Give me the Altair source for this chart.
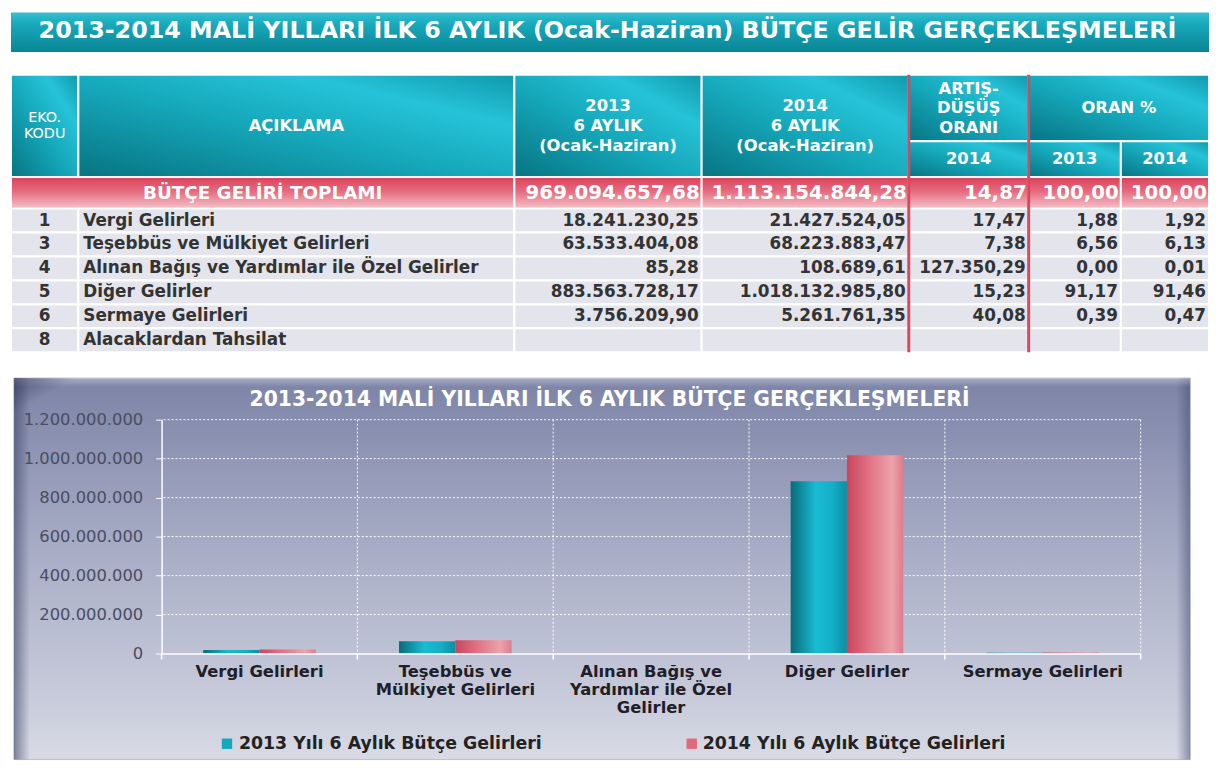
import json
import altair as alt
import pandas as pd

# ------------------------------------------------------------------ data
eko_codes = ["1", "3", "4", "5", "6", "8"]
descriptions = [
    "Vergi Gelirleri",
    "Teşebbüs ve Mülkiyet Gelirleri",
    "Alınan Bağış ve Yardımlar ile Özel Gelirler",
    "Diğer Gelirler",
    "Sermaye Gelirleri",
    "Alacaklardan Tahsilat",
]
budget_2013 = [18241230.25, 63533404.08, 85.28, 883563728.17, 3756209.90, None]
budget_2014 = [21427524.05, 68223883.47, 108689.61, 1018132985.80, 5261761.35, None]
change_pct_2014 = [17.47, 7.38, 127350.29, 15.23, 40.08, None]
share_pct_2013 = [1.88, 6.56, 0.00, 91.17, 0.39, None]
share_pct_2014 = [1.92, 6.13, 0.01, 91.46, 0.47, None]

total_label = "BÜTÇE GELİRİ TOPLAMI"
total_values = [969094657.68, 1113154844.28, 14.87, 100.00, 100.00]

chart_categories = descriptions[:5]
chart_2013 = budget_2013[:5]
chart_2014 = budget_2014[:5]
series_names = ["2013 Yılı 6 Aylık Bütçe Gelirleri", "2014 Yılı 6 Aylık Bütçe Gelirleri"]
y_tick_values = [0, 200000000, 400000000, 600000000, 800000000, 1000000000, 1200000000]

page_title = "2013-2014 MALİ YILLARI İLK 6 AYLIK  (Ocak-Haziran) BÜTÇE GELİR GERÇEKLEŞMELERİ"
chart_title = "2013-2014 MALİ YILLARI İLK 6 AYLIK BÜTÇE GERÇEKLEŞMELERİ"
header_main = ["AÇIKLAMA", "2013\n6 AYLIK\n(Ocak-Haziran)", "2014\n6 AYLIK\n(Ocak-Haziran)"]
header_code = "EKO.\nKODU"
header_change = "ARTIŞ-\nDÜŞÜŞ\nORANI"
header_share = "ORAN %"
sub_headers = ["2014", "2013", "2014"]
wrapped_labels = {
    "Teşebbüs ve Mülkiyet Gelirleri": ["Teşebbüs ve", "Mülkiyet Gelirleri"],
    "Alınan Bağış ve Yardımlar ile Özel Gelirler": ["Alınan Bağış ve", "Yardımlar ile Özel", "Gelirler"],
}

# ------------------------------------------------------------------ layout
FULL_W = 1211          # whole drawing width (page x 8 .. 1219)
OX = 154               # plot origin of the bar chart from the left edge
VIEW_W = FULL_W - OX   # view width of banner / table (origins are aligned in the concat)
BANNER_H = 59
TABLE_H = 306
col_widths = [68, 440, 189, 209, 121, 93, 89]
edges = [2]
for w in col_widths:
    edges.append(edges[-1] + w)
HDR_Y0, HDR_Y1, SPLIT_Y = 2, 105, 69
TOT_Y1 = 137
BODY_H = 145 / 6

FONT = "DejaVu Sans"

def grad(stops, x1=0, y1=0, x2=0, y2=1):
    return alt.LinearGradient(
        gradient="linear", x1=x1, y1=y1, x2=x2, y2=y2,
        stops=[alt.GradientStop(color=c, offset=o) for o, c in stops])

def lines_offset(text, lh):
    n = text.count("\n") + 1
    return -(n - 1) * lh / 2

# ------------------------------------------------------------------ banner
one = pd.DataFrame({"t": [page_title]})
banner_rect = alt.Chart(one).mark_rect(
    fill=grad([(0, "#33c0d1"), (0.3, "#18a9bc"), (1, "#0a8494")])
).encode(x=alt.value(2 - OX), x2=alt.value(VIEW_W), y=alt.value(0), y2=alt.value(40))
banner_text = alt.Chart(one).mark_text(
    font=FONT, fontSize=24, fontWeight="bold", color="white", baseline="middle"
).encode(text="t:N", x=alt.value(450), y=alt.value(19))
banner = alt.layer(banner_rect, banner_text).properties(width=VIEW_W, height=BANNER_H)

# ------------------------------------------------------------------ table
xs = alt.Scale(domain=[OX, FULL_W], nice=False, zero=False)
ys = alt.Scale(domain=[0, TABLE_H], nice=False, zero=False, reverse=True)

def rect_layer(cells, fill):
    df = pd.DataFrame(cells, columns=["x0", "x1", "y0", "y1"])
    return alt.Chart(df).mark_rect(fill=fill, stroke="white", strokeWidth=2).encode(
        x=alt.X("x0:Q", scale=xs, axis=None), x2="x1:Q",
        y=alt.Y("y0:Q", scale=ys, axis=None), y2="y1:Q")

def text_layer(rows, numeric=False, **mark):
    df = pd.DataFrame(rows, columns=["x", "y", "v"])
    txt = alt.Text("v:Q", format=",.2f") if numeric else alt.Text("v:N")
    return alt.Chart(df).mark_text(baseline="middle", **mark).encode(
        x=alt.X("x:Q", scale=xs, axis=None), y=alt.Y("y:Q", scale=ys, axis=None), text=txt)

hdr_cells = [(edges[c], edges[c + 1], HDR_Y0, HDR_Y1) for c in range(4)]
hdr_cells += [(edges[4], edges[5], HDR_Y0, SPLIT_Y), (edges[5], edges[7], HDR_Y0, SPLIT_Y)]
hdr_cells += [(edges[c], edges[c + 1], SPLIT_Y, HDR_Y1) for c in (4, 5, 6)]
hdr_fill = grad([(0, "#077482"), (0.45, "#15a7ba"), (0.75, "#26c3d8"), (1, "#1099ac")], x1=0, y1=1, x2=1, y2=0)

tot_cells = [(edges[0], edges[2], HDR_Y1, TOT_Y1)] + [(edges[c], edges[c + 1], HDR_Y1, TOT_Y1) for c in range(2, 7)]
tot_fill = grad([(0, "#da4259"), (0.45, "#e56a7d"), (1, "#f5c3ca")])

body_cells = []
for r in range(len(eko_codes)):
    y0 = TOT_Y1 + r * BODY_H
    for c in range(7):
        body_cells.append((edges[c], edges[c + 1], y0, y0 + BODY_H))

cx = lambda c0, c1: (edges[c0] + edges[c1]) / 2
hdr_mid = (HDR_Y0 + HDR_Y1) / 2
top_mid = (HDR_Y0 + SPLIT_Y) / 2
sub_mid = (SPLIT_Y + HDR_Y1) / 2
tot_mid = (HDR_Y1 + TOT_Y1) / 2
LH = 20

hdr_text_rows = [(cx(1 + i, 2 + i), hdr_mid + lines_offset(t, LH), t) for i, t in enumerate(header_main)]
hdr_text_rows += [(cx(4, 5), top_mid + lines_offset(header_change, 19.5), header_change),
                  (cx(5, 7), top_mid, header_share)]
hdr_text_rows += [(cx(c, c + 1), sub_mid, s) for c, s in zip((4, 5, 6), sub_headers)]

body_code_rows = [(cx(0, 1), TOT_Y1 + (r + 0.5) * BODY_H, k) for r, k in enumerate(eko_codes)]
body_name_rows = [(edges[1] + 5, TOT_Y1 + (r + 0.5) * BODY_H, n) for r, n in enumerate(descriptions)]
body_num_rows = []
for c, col in zip(range(2, 7), [budget_2013, budget_2014, change_pct_2014, share_pct_2013, share_pct_2014]):
    for r, v in enumerate(col):
        if v is not None:
            body_num_rows.append((edges[c + 1] - 3, TOT_Y1 + (r + 0.5) * BODY_H, v))
tot_num_rows = [(edges[c + 1] - 2, tot_mid, v) for c, v in zip(range(2, 7), total_values)]

sep_df = pd.DataFrame({"x": [edges[4], edges[5]], "y0": [HDR_Y0, HDR_Y0], "y1": [TOT_Y1 + 6 * BODY_H] * 2})
sep_layer = alt.Chart(sep_df).mark_rule(color="#d9475d", strokeWidth=3).encode(
    x=alt.X("x:Q", scale=xs, axis=None), y=alt.Y("y0:Q", scale=ys, axis=None), y2="y1:Q")

table = alt.layer(
    rect_layer(hdr_cells, hdr_fill),
    rect_layer(tot_cells, tot_fill),
    rect_layer(body_cells, "#e3e4ec"),
    sep_layer,
    text_layer(hdr_text_rows, font=FONT, fontSize=16.5, fontWeight="bold", color="white",
               align="center", lineBreak="\n", lineHeight=LH),
    text_layer([(cx(0, 1), hdr_mid + lines_offset(header_code, 16), header_code)], font=FONT,
               fontSize=14.5, color="white", align="center", lineBreak="\n", lineHeight=16),
    text_layer([(cx(0, 2), tot_mid, total_label)], font=FONT, fontSize=18.5, fontWeight="bold",
               color="white", align="center"),
    text_layer(tot_num_rows, numeric=True, font=FONT, fontSize=20, fontWeight="bold",
               color="white", align="right"),
    text_layer(body_code_rows, font=FONT, fontSize=17, fontWeight="bold", color="#333333", align="center"),
    text_layer(body_name_rows, font=FONT, fontSize=17, fontWeight="bold", color="#333333", align="left"),
    text_layer(body_num_rows, numeric=True, font=FONT, fontSize=17, fontWeight="bold",
               color="#333333", align="right"),
).properties(width=VIEW_W, height=TABLE_H)

# ------------------------------------------------------------------ bar chart
W, H = 988, 236
bar_df = pd.DataFrame({
    "category": chart_categories * 2,
    "series": [series_names[0]] * len(chart_categories) + [series_names[1]] * len(chart_categories),
    "value": chart_2013 + chart_2014,
})

expr = "datum.label"
for k, v in wrapped_labels.items():
    expr = f"datum.label == {json.dumps(k, ensure_ascii=False)} ? {json.dumps(v, ensure_ascii=False)} : ({expr})"

x_axis = alt.Axis(
    labelAngle=0, labelAlign="center", labelBaseline="top", labelFont=FONT, labelFontSize=16.5,
    labelFontWeight="bold", labelColor="#1f2027", labelPadding=10, labelLineHeight=18.5,
    labelExpr=expr, labelLimit=400, ticks=False, domainColor="white", domainWidth=1.5,
    grid=False, zindex=1)
x_scale = alt.Scale(paddingInner=0, paddingOuter=0)
y_axis = alt.Axis(
    values=y_tick_values, format=",d", labelFont=FONT, labelFontSize=16.5, labelColor="#4a4d62",
    labelPadding=13, tickColor="white", tickSize=6, domainColor="white", domainWidth=1.5,
    grid=False, zindex=1)
y_scale = alt.Scale(domain=[0, y_tick_values[-1]], nice=False)

def X(**kw):
    return alt.X("category:N", sort=chart_categories, title=None, scale=x_scale, axis=x_axis, **kw)

def Y():
    return alt.Y("value:Q", title=None, scale=y_scale, axis=y_axis)

def XO():
    return alt.XOffset("series:N", sort=series_names, scale=alt.Scale(paddingOuter=0.74, paddingInner=0))

blank = pd.DataFrame({"t": [chart_title]})
P_L, P_R, P_T, P_B = -149, W + 50, -42, H + 107
edge_pad = alt.Chart(blank).mark_rect(fill="white").encode(
    x=alt.value(-OX), x2=alt.value(P_L), y=alt.value(P_T), y2=alt.value(P_B))
panel = alt.Chart(blank).mark_rect(
    fill=grad([(0, "#7c83a6"), (0.45, "#a8adc6"), (0.85, "#c9ccdb"), (1, "#d8dae5")]),
    stroke="#b9bdd0", strokeWidth=1,
).encode(x=alt.value(P_L), x2=alt.value(P_R), y=alt.value(P_T), y2=alt.value(P_B))
bevel_l = alt.Chart(blank).mark_rect(
    fill=grad([(0, "rgba(62,68,104,0.6)"), (1, "rgba(62,68,104,0)")], x1=0, y1=0, x2=1, y2=0)
).encode(x=alt.value(P_L), x2=alt.value(P_L + 16), y=alt.value(P_T), y2=alt.value(P_B))
bevel_r = alt.Chart(blank).mark_rect(
    fill=grad([(0, "rgba(62,68,104,0)"), (1, "rgba(62,68,104,0.5)")], x1=0, y1=0, x2=1, y2=0)
).encode(x=alt.value(P_R - 14), x2=alt.value(P_R), y=alt.value(P_T), y2=alt.value(P_B))
bevel_t = alt.Chart(blank).mark_rect(
    fill=grad([(0, "rgba(255,255,255,0.35)"), (1, "rgba(255,255,255,0)")])
).encode(x=alt.value(P_L), x2=alt.value(P_R), y=alt.value(P_T), y2=alt.value(P_T + 9))
corner = alt.Chart(blank).mark_rect(
    fill=grad([(0, "rgba(50,55,92,0.6)"), (0.45, "rgba(50,55,92,0)")], x1=0, y1=0, x2=1, y2=1)
).encode(x=alt.value(P_L), x2=alt.value(P_L + 70), y=alt.value(P_T), y2=alt.value(P_T + 40))
title_layer = alt.Chart(blank).mark_text(
    font=FONT, fontSize=20.5, fontWeight="bold", color="white", baseline="middle"
).encode(text="t:N", x=alt.value(452), y=alt.value(-20))

rule_style = dict(color="white", strokeDash=[2, 2], strokeWidth=1)
grid_y = alt.Chart(pd.DataFrame({"value": y_tick_values[1:]})).mark_rule(**rule_style).encode(y=Y())
grid_x = alt.Chart(pd.DataFrame({"category": chart_categories[1:]})).mark_rule(**rule_style).encode(
    x=X(bandPosition=0), y=alt.value(0), y2=alt.value(H))
grid_x_end = alt.Chart(pd.DataFrame({"category": chart_categories[-1:]})).mark_rule(**rule_style).encode(
    x=X(bandPosition=1), y=alt.value(0), y2=alt.value(H))
ticks_x = alt.Chart(pd.DataFrame({"category": chart_categories})).mark_rule(
    color="white", strokeWidth=1.5).encode(x=X(bandPosition=0), y=alt.value(H), y2=alt.value(H + 6))
ticks_x_end = alt.Chart(pd.DataFrame({"category": chart_categories[-1:]})).mark_rule(
    color="white", strokeWidth=1.5).encode(x=X(bandPosition=1), y=alt.value(H), y2=alt.value(H + 6))

bar_colors = ["#14a8bc", "#e06a7b"]
color_scale = alt.Scale(domain=series_names, range=bar_colors)

teal_grad = grad([(0, "#0a6a78"), (0.45, "#18bcd3"), (0.75, "#14aec6"), (1, "#0c8ea2")], x1=0, y1=0, x2=1, y2=0)
pink_grad = grad([(0, "#c9465c"), (0.4, "#e07384"), (0.8, "#eda2ac"), (1, "#de7c8b")], x1=0, y1=0, x2=1, y2=0)
bars_teal = alt.Chart(bar_df).transform_filter(
    alt.datum.series == series_names[0]).mark_bar(fill=teal_grad).encode(x=X(), xOffset=XO(), y=Y())
bars_pink = alt.Chart(bar_df).transform_filter(
    alt.datum.series == series_names[1]).mark_bar(fill=pink_grad).encode(x=X(), xOffset=XO(), y=Y())

# legend (symbols coloured through the same colour scale)
leg_df = pd.DataFrame({"series": series_names})
legend_layers = []
for i, (sx, tx) in enumerate([(66, 78), (535, 546)]):
    part = alt.Chart(leg_df).transform_filter(alt.datum.series == series_names[i])
    legend_layers.append(part.mark_square(size=110, opacity=1).encode(
        x=alt.value(sx), y=alt.value(H + 91),
        color=alt.Color("series:N", scale=color_scale, legend=None)))
    legend_layers.append(part.mark_text(
        align="left", baseline="middle", font=FONT, fontSize=17.5, fontWeight="bold", color="#222222"
    ).encode(x=alt.value(tx), y=alt.value(H + 91), text="series:N"))

bars = alt.layer(
    edge_pad, panel, bevel_l, bevel_r, bevel_t, corner, grid_y, grid_x, grid_x_end, ticks_x, ticks_x_end,
    bars_teal, bars_pink, title_layer, *legend_layers,
).properties(width=W, height=H)

chart = alt.vconcat(banner, table, bars, spacing=0).properties(
    padding=0, background="white"
).configure(
    locale={"number": {"decimal": ",", "thousands": ".", "grouping": [3], "currency": ["", ""]}}
).configure_view(stroke="transparent")

chart.save("out.html", embed_options={"renderer": "svg", "actions": False})
